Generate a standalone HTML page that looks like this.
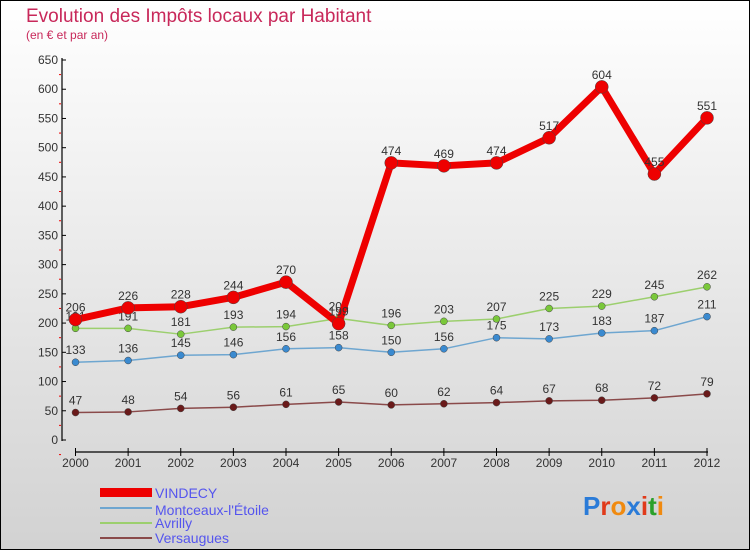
<!DOCTYPE html>
<html><head><meta charset="utf-8"><style>
body{margin:0}
#c{width:750px;height:550px;position:relative;overflow:hidden;box-sizing:border-box;border:1px solid #000;background:linear-gradient(#ffffff,#d2d2d2);font-family:"Liberation Sans",sans-serif}
</style></head><body>
<div id="c">
<svg id="s" width="750" height="550" style="position:absolute;left:-1px;top:-1px">
<text x="26" y="22" font-size="19" fill="#c8285a">Evolution des Impôts locaux par Habitant</text>
<text x="26" y="39" font-size="12" fill="#c8285a">(en € et par an)</text>
<g id="axes"></g><g id="series"></g>
<g>
<rect x="100" y="488" width="52" height="9" fill="#e00"/>
<text x="155" y="498" font-size="14" fill="#5555ee">VINDECY</text>
<rect x="100" y="507" width="52" height="2" fill="#6ea6d0"/>
<text x="155" y="515" font-size="14" fill="#5555ee">Montceaux-l'Étoile</text>
<rect x="100" y="522" width="52" height="2" fill="#9ccf6e"/>
<text x="155" y="528" font-size="14" fill="#5555ee">Avrilly</text>
<rect x="100" y="537" width="52" height="2" fill="#8a4a4a"/>
<text x="155" y="543" font-size="14" fill="#5555ee">Versaugues</text>
</g>
<text x="583" y="515" font-size="26" font-weight="bold"><tspan fill="#2a7bd8">P</tspan><tspan fill="#e03a1a">r</tspan><tspan fill="#f08a10">o</tspan><tspan fill="#2a7bd8">x</tspan><tspan fill="#e03a1a">i</tspan><tspan fill="#2aa02a">t</tspan><tspan fill="#f08a10">i</tspan></text>
</svg>
</div>
<script>
const years=[2000,2001,2002,2003,2004,2005,2006,2007,2008,2009,2010,2011,2012];
const yTicks=[0,50,100,150,200,250,300,350,400,450,500,550,600,650];
const vindecy=[206,226,228,244,270,199,474,469,474,517,604,455,551];
const montceaux=[133,136,145,146,156,158,150,156,175,173,183,187,211];
const avrilly=[191,191,181,193,194,208,196,203,207,225,229,245,262];
const versaugues=[47,48,54,56,61,65,60,62,64,67,68,72,79];
const NS="http://www.w3.org/2000/svg";
const xS=i=>75.5+i*(707-75.5)/(years.length-1);
const yS=v=>440-v*(380/650);
function mk(t,a,p){const e=document.createElementNS(NS,t);for(const k in a)e.setAttribute(k,a[k]);p.appendChild(e);return e;}
const ax=document.getElementById('axes');
let e=mk('line',{x1:62,y1:58,x2:62,y2:441,stroke:'#000','stroke-width':1.2},ax);


e=mk('line',{x1:75,y1:452,x2:708,y2:452,stroke:'#000','stroke-width':1.2},ax);


yTicks.forEach(v=>{const y=yS(v);
mk('line',{x1:62,y1:y,x2:66,y2:y,stroke:'#000'},ax);
mk('line',{x1:59,y1:y+14.6,x2:61,y2:y+14.6,stroke:'#e00'},ax);
const t=mk('text',{x:58,y:y+4,'font-size':12,'text-anchor':'end',fill:'#333'},ax);t.textContent=v;

});
years.forEach((yr,i)=>{const x=xS(i);
mk('line',{x1:x,y1:448,x2:x,y2:456,stroke:'#000'},ax);
const t=mk('text',{x:x,y:467,'font-size':12,'text-anchor':'middle',fill:'#333'},ax);t.textContent=yr;

});
const sg=document.getElementById('series');
function draw(d,name,col,w,r,dot){
const g=mk('g',{},sg);


const l=mk('polyline',{points:d.map((v,i)=>xS(i)+','+yS(v)).join(' '),fill:'none',stroke:col,'stroke-width':w,'stroke-linejoin':'round'},g);


d.forEach((v,i)=>{const c=mk('circle',{cx:xS(i),cy:yS(v),r:r,fill:dot,stroke:'#444','stroke-width':0.5},g);


const t=mk('text',{x:xS(i),y:yS(v)-8,'font-size':12,'text-anchor':'middle',fill:'#333'},g);t.textContent=v;

});}
draw(versaugues,'versaugues','#8a4a4a',1.5,3.5,'#6a1a1a');
draw(montceaux,'montceaux','#6ea6d0',1.5,3.5,'#3a8ad0');
draw(avrilly,'avrilly','#9ccf6e',1.5,3.5,'#7ac83a');
draw(vindecy,'vindecy','#e00',7,6.5,'#e00');
</script>
</body></html>
